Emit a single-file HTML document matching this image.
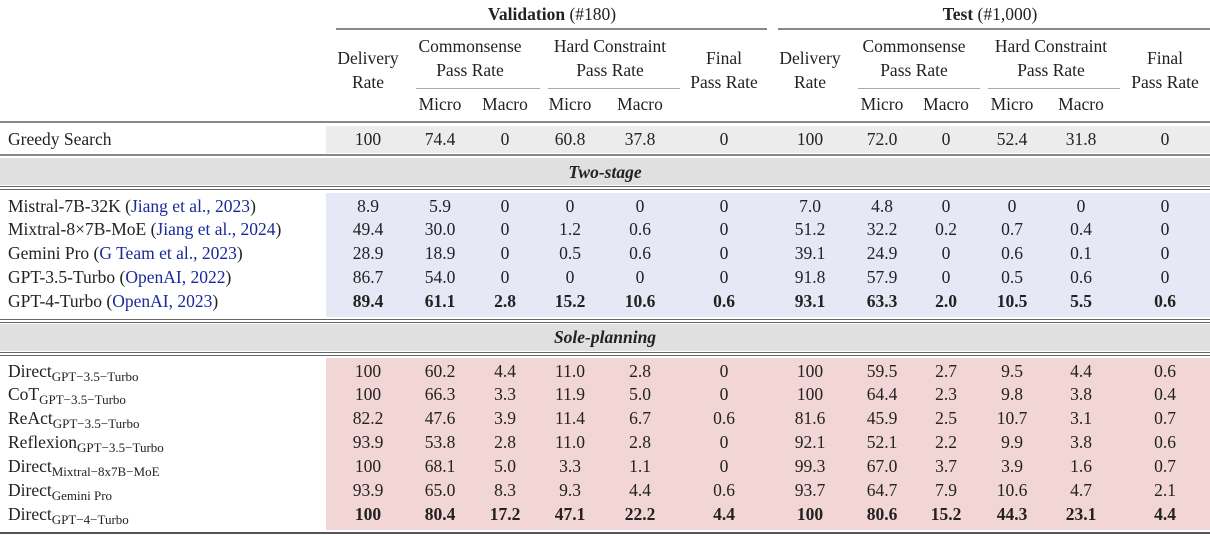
<!DOCTYPE html>
<html><head><style>
body{margin:0;width:1210px;height:536px;background:#fff;position:relative;overflow:hidden;font-family:"Liberation Serif",serif;font-size:17.5px;color:#222}
.a{position:absolute}
.r{position:absolute;left:0;width:1210px;height:24px;line-height:24px}
.r span{position:absolute;transform:translateX(-50%);white-space:nowrap}
.r span.l{transform:none;left:8px}
.b span{font-weight:bold}
.b span.l{font-weight:normal}
.h{position:absolute;text-align:center;transform:translateX(-50%);line-height:24px;white-space:nowrap}
.ln{position:absolute;height:2px;background:#888}
.tl{position:absolute;height:1px;background:#aaa}
sub{font-size:13px;vertical-align:-4px;line-height:0}
.c{color:#1a2a9a}
</style></head><body>
<div class="h" style="left:552px;top:2px"><b>Validation</b> (#180)</div>
<div class="h" style="left:990px;top:2px"><b>Test</b> (#1,000)</div>
<div class="ln" style="left:336px;width:431px;top:28px"></div>
<div class="ln" style="left:778px;width:432px;top:28px"></div>
<div class="h" style="left:368px;top:46px">Delivery<br>Rate</div>
<div class="h" style="left:470px;top:34px">Commonsense<br>Pass Rate</div>
<div class="h" style="left:610px;top:34px">Hard Constraint<br>Pass Rate</div>
<div class="h" style="left:724px;top:46px">Final<br>Pass Rate</div>
<div class="h" style="left:810px;top:46px">Delivery<br>Rate</div>
<div class="h" style="left:914px;top:34px">Commonsense<br>Pass Rate</div>
<div class="h" style="left:1051px;top:34px">Hard Constraint<br>Pass Rate</div>
<div class="h" style="left:1165px;top:46px">Final<br>Pass Rate</div>
<div class="tl" style="left:416px;width:124px;top:88px"></div>
<div class="tl" style="left:548px;width:132px;top:88px"></div>
<div class="tl" style="left:858px;width:122px;top:88px"></div>
<div class="tl" style="left:988px;width:132px;top:88px"></div>
<div class="r" style="top:92px"><span style="left:440px">Micro</span><span style="left:505px">Macro</span><span style="left:570px">Micro</span><span style="left:640px">Macro</span><span style="left:882px">Micro</span><span style="left:946px">Macro</span><span style="left:1012px">Micro</span><span style="left:1081px">Macro</span></div>
<div class="ln" style="left:0;width:1210px;top:121px"></div>
<div class="a" style="left:326px;width:884px;top:126px;height:27px;background:#ececec"></div>
<div class="r" style="top:127px"><span class="l">Greedy Search</span><span style="left:368px">100</span><span style="left:440px">74.4</span><span style="left:505px">0</span><span style="left:570px">60.8</span><span style="left:640px">37.8</span><span style="left:724px">0</span><span style="left:810px">100</span><span style="left:882px">72.0</span><span style="left:946px">0</span><span style="left:1012px">52.4</span><span style="left:1081px">31.8</span><span style="left:1165px">0</span></div>
<div class="ln" style="left:0;width:1210px;top:154px"></div>
<div class="a" style="left:0;width:1210px;top:158px;height:27px;background:#e0e0e0"></div>
<div class="h" style="left:605px;top:160px"><b><i>Two-stage</i></b></div>
<div class="ln" style="left:0;width:1210px;top:186px;height:1px;background:#666"></div>
<div class="ln" style="left:0;width:1210px;top:189px;height:1px;background:#666"></div>
<div class="a" style="left:326px;width:884px;top:193px;height:124px;background:#e7e8f5"></div>
<div class="r" style="top:194px"><span class="l">Mistral-7B-32K (<span class="c" style="position:static;transform:none">Jiang et al., 2023</span>)</span><span style="left:368px">8.9</span><span style="left:440px">5.9</span><span style="left:505px">0</span><span style="left:570px">0</span><span style="left:640px">0</span><span style="left:724px">0</span><span style="left:810px">7.0</span><span style="left:882px">4.8</span><span style="left:946px">0</span><span style="left:1012px">0</span><span style="left:1081px">0</span><span style="left:1165px">0</span></div>
<div class="r" style="top:217px"><span class="l">Mixtral-8×7B-MoE (<span class="c" style="position:static;transform:none">Jiang et al., 2024</span>)</span><span style="left:368px">49.4</span><span style="left:440px">30.0</span><span style="left:505px">0</span><span style="left:570px">1.2</span><span style="left:640px">0.6</span><span style="left:724px">0</span><span style="left:810px">51.2</span><span style="left:882px">32.2</span><span style="left:946px">0.2</span><span style="left:1012px">0.7</span><span style="left:1081px">0.4</span><span style="left:1165px">0</span></div>
<div class="r" style="top:241px"><span class="l">Gemini Pro (<span class="c" style="position:static;transform:none">G Team et al., 2023</span>)</span><span style="left:368px">28.9</span><span style="left:440px">18.9</span><span style="left:505px">0</span><span style="left:570px">0.5</span><span style="left:640px">0.6</span><span style="left:724px">0</span><span style="left:810px">39.1</span><span style="left:882px">24.9</span><span style="left:946px">0</span><span style="left:1012px">0.6</span><span style="left:1081px">0.1</span><span style="left:1165px">0</span></div>
<div class="r" style="top:265px"><span class="l">GPT-3.5-Turbo (<span class="c" style="position:static;transform:none">OpenAI, 2022</span>)</span><span style="left:368px">86.7</span><span style="left:440px">54.0</span><span style="left:505px">0</span><span style="left:570px">0</span><span style="left:640px">0</span><span style="left:724px">0</span><span style="left:810px">91.8</span><span style="left:882px">57.9</span><span style="left:946px">0</span><span style="left:1012px">0.5</span><span style="left:1081px">0.6</span><span style="left:1165px">0</span></div>
<div class="r b" style="top:289px"><span class="l">GPT-4-Turbo (<span class="c" style="position:static;transform:none;font-weight:normal">OpenAI, 2023</span>)</span><span style="left:368px">89.4</span><span style="left:440px">61.1</span><span style="left:505px">2.8</span><span style="left:570px">15.2</span><span style="left:640px">10.6</span><span style="left:724px">0.6</span><span style="left:810px">93.1</span><span style="left:882px">63.3</span><span style="left:946px">2.0</span><span style="left:1012px">10.5</span><span style="left:1081px">5.5</span><span style="left:1165px">0.6</span></div>
<div class="ln" style="left:0;width:1210px;top:319px;height:1px;background:#666"></div>
<div class="ln" style="left:0;width:1210px;top:322px;height:1px;background:#666"></div>
<div class="a" style="left:0;width:1210px;top:324px;height:27px;background:#e0e0e0"></div>
<div class="h" style="left:605px;top:325px"><b><i>Sole-planning</i></b></div>
<div class="ln" style="left:0;width:1210px;top:352px;height:1px;background:#666"></div>
<div class="ln" style="left:0;width:1210px;top:355px;height:1px;background:#666"></div>
<div class="a" style="left:326px;width:884px;top:358px;height:172px;background:#f2d5d5"></div>
<div class="r" style="top:359px"><span class="l">Direct<sub>GPT−3.5−Turbo</sub></span><span style="left:368px">100</span><span style="left:440px">60.2</span><span style="left:505px">4.4</span><span style="left:570px">11.0</span><span style="left:640px">2.8</span><span style="left:724px">0</span><span style="left:810px">100</span><span style="left:882px">59.5</span><span style="left:946px">2.7</span><span style="left:1012px">9.5</span><span style="left:1081px">4.4</span><span style="left:1165px">0.6</span></div>
<div class="r" style="top:382px"><span class="l">CoT<sub>GPT−3.5−Turbo</sub></span><span style="left:368px">100</span><span style="left:440px">66.3</span><span style="left:505px">3.3</span><span style="left:570px">11.9</span><span style="left:640px">5.0</span><span style="left:724px">0</span><span style="left:810px">100</span><span style="left:882px">64.4</span><span style="left:946px">2.3</span><span style="left:1012px">9.8</span><span style="left:1081px">3.8</span><span style="left:1165px">0.4</span></div>
<div class="r" style="top:406px"><span class="l">ReAct<sub>GPT−3.5−Turbo</sub></span><span style="left:368px">82.2</span><span style="left:440px">47.6</span><span style="left:505px">3.9</span><span style="left:570px">11.4</span><span style="left:640px">6.7</span><span style="left:724px">0.6</span><span style="left:810px">81.6</span><span style="left:882px">45.9</span><span style="left:946px">2.5</span><span style="left:1012px">10.7</span><span style="left:1081px">3.1</span><span style="left:1165px">0.7</span></div>
<div class="r" style="top:430px"><span class="l">Reflexion<sub>GPT−3.5−Turbo</sub></span><span style="left:368px">93.9</span><span style="left:440px">53.8</span><span style="left:505px">2.8</span><span style="left:570px">11.0</span><span style="left:640px">2.8</span><span style="left:724px">0</span><span style="left:810px">92.1</span><span style="left:882px">52.1</span><span style="left:946px">2.2</span><span style="left:1012px">9.9</span><span style="left:1081px">3.8</span><span style="left:1165px">0.6</span></div>
<div class="r" style="top:454px"><span class="l">Direct<sub>Mixtral−8x7B−MoE</sub></span><span style="left:368px">100</span><span style="left:440px">68.1</span><span style="left:505px">5.0</span><span style="left:570px">3.3</span><span style="left:640px">1.1</span><span style="left:724px">0</span><span style="left:810px">99.3</span><span style="left:882px">67.0</span><span style="left:946px">3.7</span><span style="left:1012px">3.9</span><span style="left:1081px">1.6</span><span style="left:1165px">0.7</span></div>
<div class="r" style="top:478px"><span class="l">Direct<sub>Gemini Pro</sub></span><span style="left:368px">93.9</span><span style="left:440px">65.0</span><span style="left:505px">8.3</span><span style="left:570px">9.3</span><span style="left:640px">4.4</span><span style="left:724px">0.6</span><span style="left:810px">93.7</span><span style="left:882px">64.7</span><span style="left:946px">7.9</span><span style="left:1012px">10.6</span><span style="left:1081px">4.7</span><span style="left:1165px">2.1</span></div>
<div class="r b" style="top:502px"><span class="l">Direct<sub>GPT−4−Turbo</sub></span><span style="left:368px">100</span><span style="left:440px">80.4</span><span style="left:505px">17.2</span><span style="left:570px">47.1</span><span style="left:640px">22.2</span><span style="left:724px">4.4</span><span style="left:810px">100</span><span style="left:882px">80.6</span><span style="left:946px">15.2</span><span style="left:1012px">44.3</span><span style="left:1081px">23.1</span><span style="left:1165px">4.4</span></div>
<div class="ln" style="left:0;width:1210px;top:532px;background:#555"></div>
</body></html>
